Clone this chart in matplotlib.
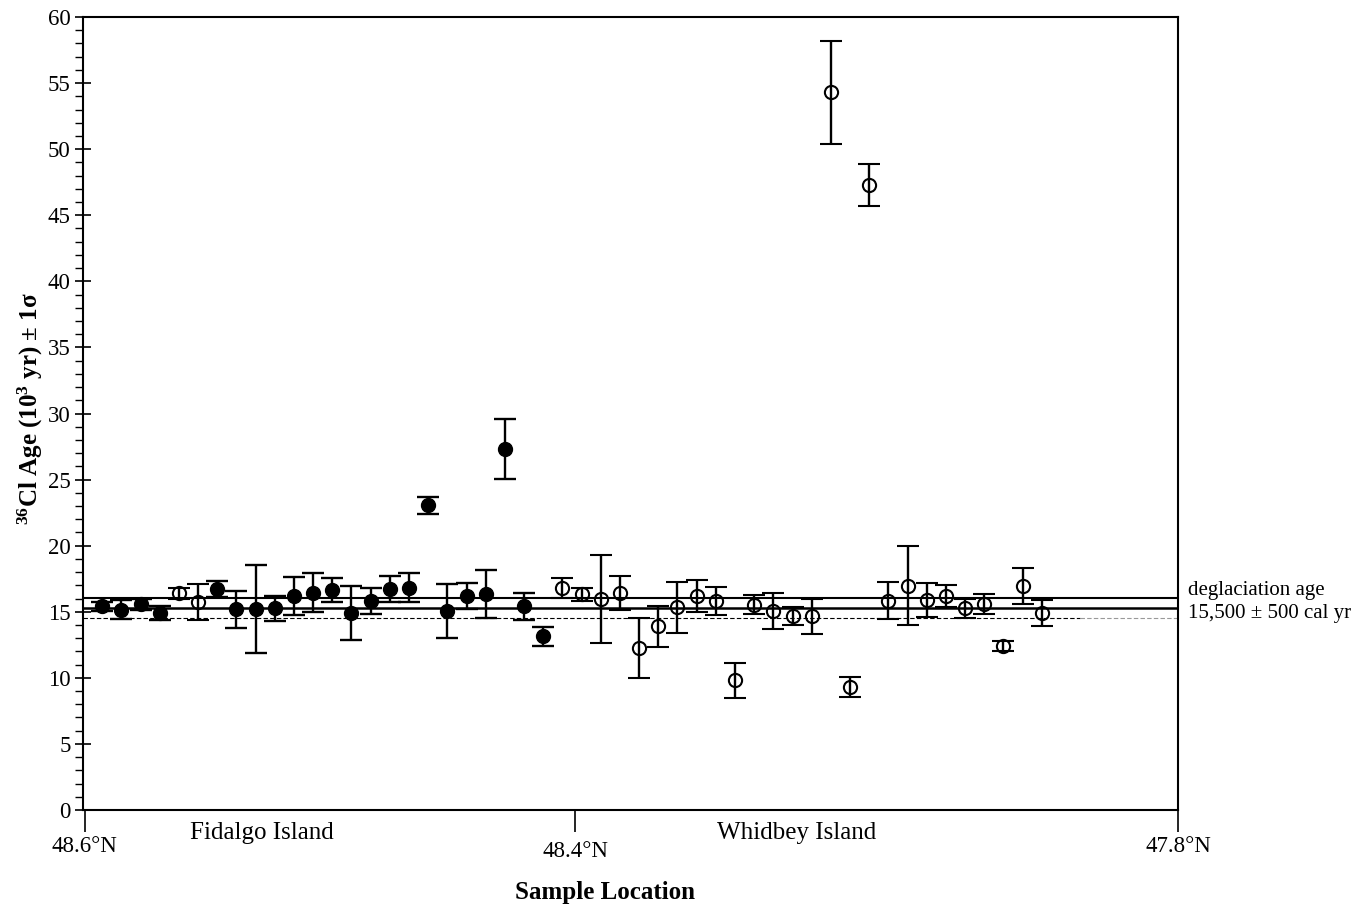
import numpy as np
import matplotlib
matplotlib.use("Agg")
import matplotlib.pyplot as plt
from matplotlib.ticker import MultipleLocator
from matplotlib.transforms import ScaledTranslation

plt.rcParams['font.family'] = ['Liberation Serif', 'DejaVu Serif']
plt.rcParams['mathtext.fontset'] = 'custom'
plt.rcParams['mathtext.rm'] = 'Liberation Serif:bold'
plt.rcParams['mathtext.bf'] = 'Liberation Serif:bold'
plt.rcParams['mathtext.it'] = 'Liberation Serif:bold:italic'

# 36Cl ages (10^3 yr), in sample order north -> south
age = [15.4, 15.15, 15.55, 14.9, 16.4, 15.75, 16.7, 15.2, 15.2, 15.25,
       16.2, 16.45, 16.65, 14.9, 15.83, 16.7, 16.83, 23.06, 15.03, 16.2,
       16.33, 27.3, 15.4, 13.13, 16.83, 16.33, 16.0, 16.4, 12.24, 13.9,
       15.33, 16.2, 15.83, 9.8, 15.53, 15.07, 14.7, 14.65, 54.3, 9.3,
       47.3, 15.83, 16.96, 15.9, 16.2, 15.25, 15.58, 12.43, 16.96, 14.9]
sigma = [0.35, 0.72, 0.4, 0.5, 0.42, 1.35, 0.6, 1.4, 3.35, 0.92,
         1.45, 1.47, 0.9, 2.03, 0.98, 1.0, 1.07, 0.65, 2.05, 0.99,
         1.83, 2.29, 1.05, 0.75, 0.76, 0.5, 3.33, 1.3, 2.27, 1.55,
         1.92, 1.23, 1.08, 1.29, 0.72, 1.35, 0.67, 1.33, 3.9, 0.78,
         1.59, 1.4, 2.98, 1.28, 0.84, 0.75, 0.75, 0.39, 1.38, 1.0]
# True = filled symbol, False = open symbol
filled = [True, True, True, True, False, False, True, True, True, True,
          True, True, True, True, True, True, True, True, True, True,
          True, True, True, True] + [False] * 26

deglac_hi = 16.05
deglac_mid = 15.3
deglac_dash = 14.55

lat_pos = [0.1, 25.66, 57.1]
lat_labels = ['48.6°N', '48.4°N', '47.8°N']
islands = ['Fidalgo Island', 'Whidbey Island']
island_pos = [9.34, 37.2]

age = np.array(age)
sigma = np.array(sigma)
filled = np.array(filled)
x = np.arange(1, len(age) + 1)

fig = plt.figure(figsize=(13.54, 9.06), dpi=100)
ax = fig.add_axes([83 / 1354, 1 - 810 / 906, (1178 - 83) / 1354, (810 - 17) / 906])

# deglaciation lines
ax.axhline(deglac_hi, color='black', lw=1.5, zorder=1)
ax.axhline(deglac_mid, color='black', lw=1.8, zorder=1)
ax.plot([0, 52], [deglac_dash, deglac_dash], color='black', lw=0.8, ls=(0, (4, 2)), zorder=1)
ax.plot([52, 57.1], [deglac_dash, deglac_dash], color='#999999', lw=0.8, ls=(0, (4, 2)), zorder=1)

ax.errorbar(x[filled], age[filled], yerr=sigma[filled], fmt='o', color='black',
            ms=10, mfc='black', mec='black', elinewidth=1.7, capsize=8,
            capthick=1.7, zorder=3)
ax.errorbar(x[~filled], age[~filled], yerr=sigma[~filled], fmt='o', color='black',
            ms=9.5, mfc='none', mec='black', mew=1.5, elinewidth=1.7, capsize=8,
            capthick=1.7, zorder=3)

ax.set_xlim(0, 57.1)
ax.set_ylim(0, 60)
ax.yaxis.set_major_locator(MultipleLocator(5))
ax.yaxis.set_minor_locator(MultipleLocator(1))
ax.set_xticks(lat_pos)
ax.set_xticklabels(lat_labels)
ax.tick_params(axis='x', direction='out', length=16, width=1.2, labelsize=16.5, pad=3)
ax.tick_params(axis='y', which='major', direction='inout', length=12, width=1.2, labelsize=16.5, pad=3)
ax.tick_params(axis='y', which='minor', direction='out', length=6, width=1.0)
for s in ax.spines.values():
    s.set_linewidth(1.5)

# middle latitude label sits a little lower in the original
lab = ax.get_xticklabels()[1]
lab.set_transform(lab.get_transform() + ScaledTranslation(0, -3 / 72, fig.dpi_scale_trans))

for name, pos in zip(islands, island_pos):
    ax.text(pos, -0.9, name, ha='center', va='top', fontsize=18, clip_on=False)

ax.text(57.6, 15.74, 'deglaciation age\n15,500 ± 500 cal yr', ha='left', va='center',
        fontsize=15, linespacing=1.35, clip_on=False)

fig.text(605 / 1354, 1 - 893 / 906, 'Sample Location', ha='center', va='center',
         fontsize=18, fontweight='bold')
fig.text(30 / 1354, 1 - 409 / 906, r'$^{\mathbf{36}}$Cl Age (10$^{\mathbf{3}}$ yr) ± 1σ',
         ha='center', va='center', rotation=90, fontsize=18, fontweight='bold')

fig.savefig('out.png', dpi=100)
